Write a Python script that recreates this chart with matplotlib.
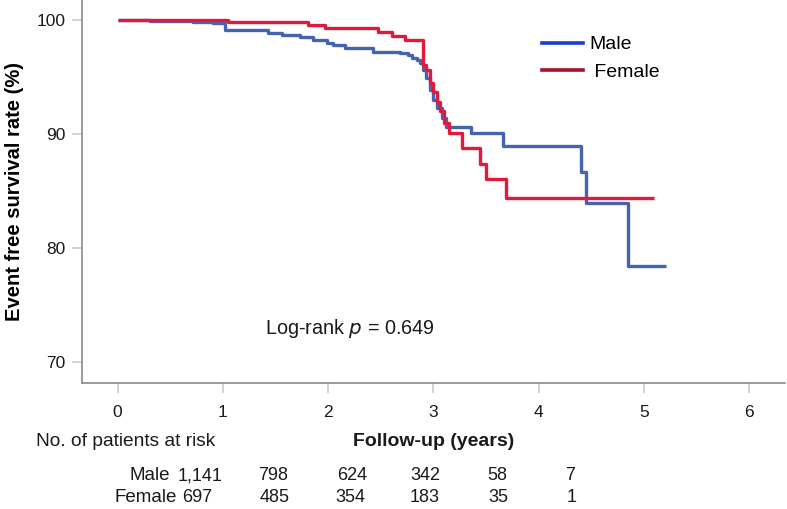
import matplotlib
matplotlib.use("Agg")
import matplotlib.pyplot as plt
from matplotlib.lines import Line2D
import numpy as np

plt.rcParams['font.family'] = ['Liberation Sans', 'DejaVu Sans']

# ---- data ----
male_t = [0, 0.31, 0.72, 0.91, 1.02, 1.43, 1.56, 1.73, 1.86, 1.99, 2.05, 2.16, 2.43, 2.68,
          2.76, 2.80, 2.84, 2.87, 2.90, 2.93, 2.97, 3.00, 3.03, 3.08, 3.12, 3.36, 3.66,
          4.40, 4.45, 4.85, 5.21]
male_s = [100, 99.95, 99.85, 99.75, 99.12, 98.86, 98.7, 98.5, 98.25, 98.0, 97.8, 97.5, 97.2, 97.08,
          96.9, 96.7, 96.5, 96.2, 95.6, 94.9, 93.9, 93.0, 92.25, 91.4, 90.64, 90.06, 88.95,
          86.7, 83.97, 78.4, 78.4]

female_t = [0, 1.05, 1.81, 1.97, 2.47, 2.61, 2.73, 2.90, 2.93, 2.97, 3.00, 3.03, 3.06,
            3.10, 3.15, 3.20, 3.27, 3.44, 3.50, 3.69, 5.10]
female_s = [100, 99.85, 99.56, 99.27, 98.9, 98.6, 98.25, 96.05, 95.6, 94.5, 93.7, 92.8, 92.0,
            91.0, 90.1, 90.06, 88.75, 87.4, 86.05, 84.4, 84.4]

x_ticks = [0, 1, 2, 3, 4, 5, 6]
y_ticks = [70, 80, 90, 100]

risk_groups = ['Male', 'Female']
risk_male = ['1,141', '798', '624', '342', '58', '7']
risk_female = ['697', '485', '354', '183', '35', '1']

blue = '#4563b0'
red = '#e2193d'
W, H = 787, 509

fig = plt.figure(figsize=(W / 100, H / 100), dpi=100)
ax = fig.add_axes([82.3 / W, 1 - 383 / H, (785 - 82.3) / W, 383 / H])

ax.step(male_t, male_s, where='post', color=blue, lw=2.4, solid_capstyle='butt', zorder=2)
ax.step(female_t, female_s, where='post', color=red, lw=2.4, solid_capstyle='butt', zorder=3)

ax.set_xlim(-0.336, 6.34)
ax.set_ylim(68.16, 101.75)
ax.set_xticks(x_ticks)
ax.set_yticks(y_ticks)
ax.set_xticklabels([str(v) for v in x_ticks])
ax.set_yticklabels([str(v) for v in y_ticks])

for s in ['top', 'right']:
    ax.spines[s].set_visible(False)
for s in ['left', 'bottom']:
    ax.spines[s].set_color('#808080')
    ax.spines[s].set_linewidth(1.1)

ax.tick_params(axis='both', direction='out', length=7, width=1.1, color='#c8c8c8',
               labelsize=12.5, labelcolor='#1a1a1a')
ax.tick_params(axis='x', pad=8.5)
ax.tick_params(axis='y', pad=5)

ax.set_ylabel('Event free survival rate (%)', fontsize=14.5, fontweight='bold', labelpad=9)

fig.text(433.5 / W, 1 - 441 / H, 'Follow-up (years)', fontsize=14, fontweight='bold',
         ha='center', va='center', color='#1a1a1a')

ax.text(0.381, 0.1436, 'Log-rank $\\it{p}$ = 0.649', transform=ax.transAxes, fontsize=14.3,
        ha='center', va='center', color='#1a1a1a')

handles = [Line2D([], [], color='#1a3fd0', lw=2.6), Line2D([], [], color='#a8102c', lw=2.6)]
ax.legend(handles, ['Male', ' Female'], loc='upper left', bbox_to_anchor=(0.629, 0.952),
          frameon=False, fontsize=14, handlelength=2.1, handletextpad=0.35, labelspacing=0.5)

# ---- number at risk table ----
def ft(x, y, s, size=13, **kw):
    fig.text(x / W, 1 - y / H, s, fontsize=size, color='#1a1a1a', va='center', **kw)

ft(36, 441, 'No. of patients at risk', size=13.8, ha='left')
ft(170, 476, risk_groups[0], size=13.5, ha='right')
ft(177, 497, risk_groups[1], size=13.5, ha='right')
male_x = [200, 273, 352, 425, 497, 570]
female_x = [197, 275, 350, 425, 498, 572]
for xx, v in zip(male_x, risk_male):
    ft(xx, 476, v, ha='center')
for xx, v in zip(female_x, risk_female):
    ft(xx, 497, v, ha='center')

fig.savefig('out.png', dpi=100)
